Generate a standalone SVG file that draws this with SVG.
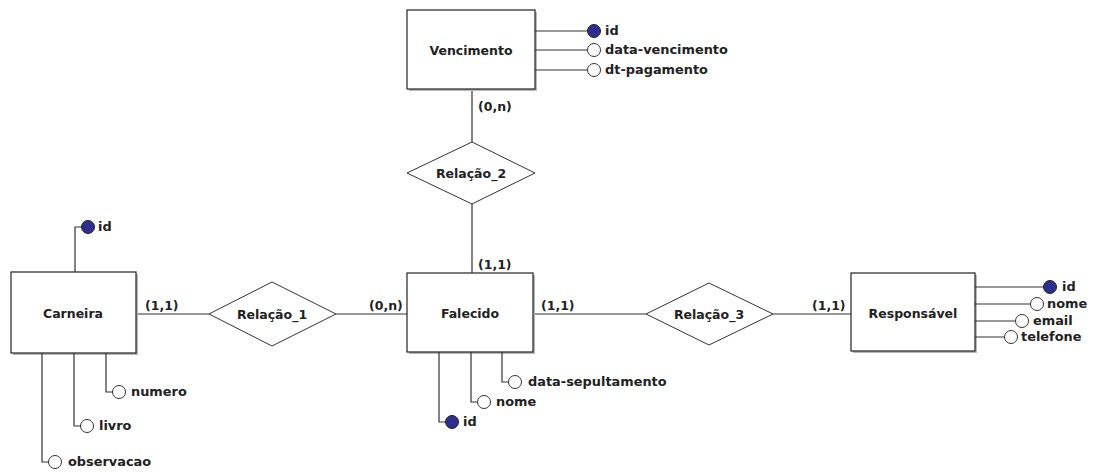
<svg xmlns="http://www.w3.org/2000/svg" width="1101" height="473" viewBox="0 0 1101 473">
<style>
text{font-family:"DejaVu Sans",Verdana,sans-serif;font-weight:bold;font-size:12.5px;fill:#222}
.at{font-size:12.9px}
.lbl{text-anchor:middle;dominant-baseline:central}
.ent{fill:#fff;stroke:#222;stroke-width:1.2}
.sh{fill:#b8b8b8}
.rel{fill:#fff;stroke:#333;stroke-width:1}
.ln{fill:none;stroke:#333;stroke-width:1.2}
.a{fill:#fff;stroke:#333;stroke-width:1}
.k{fill:#2e2e90;stroke:#222;stroke-width:1}
</style>
<rect width="1101" height="473" fill="#fff"/>
<g id="connectors">
<path class="ln" d="M472 89V142M472 204V273"/>
<path class="ln" d="M136 314H209M336 314H407"/>
<path class="ln" d="M533 314H646M773 314H851"/>
<text x="478" y="111">(0,n)</text>
<text x="478" y="269">(1,1)</text>
<text x="145" y="310">(1,1)</text>
<text x="369" y="310">(0,n)</text>
<text x="541" y="310">(1,1)</text>
<text x="812" y="310">(1,1)</text>
</g>
<g id="vencimento">
<rect class="sh" x="409" y="12" width="128" height="79"/>
<rect class="ent" x="407" y="10" width="128" height="79"/>
<text class="lbl" x="471" y="50">Vencimento</text>
<path class="ln" d="M535 31H587M535 50H587M535 70H587"/>
<circle class="k" cx="594" cy="31" r="6.5"/>
<circle class="a" cx="594" cy="50" r="6.5"/>
<circle class="a" cx="594" cy="70" r="6.5"/>
<text class="at" x="605" y="35">id</text>
<text class="at" x="605" y="54">data-vencimento</text>
<text class="at" x="605" y="74">dt-pagamento</text>
</g>
<g id="relacao_2">
<polygon class="rel" points="472,142 535,173 472,204 407,173"/>
<text class="lbl" x="471" y="173">Relação_2</text>
</g>
<g id="carneira">
<rect class="sh" x="13" y="274" width="125" height="81"/>
<rect class="ent" x="11" y="272" width="125" height="81"/>
<text class="lbl" x="73" y="313">Carneira</text>
<path class="ln" d="M75 272V227H82M106 353V392H113M74 353V426H81M42 353V462H49"/>
<circle class="k" cx="88" cy="227" r="6.5"/>
<circle class="a" cx="119" cy="392" r="6.5"/>
<circle class="a" cx="87" cy="426" r="6.5"/>
<circle class="a" cx="55" cy="462" r="6.5"/>
<text class="at" x="98" y="231">id</text>
<text class="at" x="131" y="396">numero</text>
<text class="at" x="99" y="430">livro</text>
<text class="at" x="68" y="466">observacao</text>
</g>
<g id="relacao_1">
<polygon class="rel" points="272,282 336,314 272,346 209,314"/>
<text class="lbl" x="272" y="314">Relação_1</text>
</g>
<g id="falecido">
<rect class="sh" x="409" y="275" width="126" height="79"/>
<rect class="ent" x="407" y="273" width="126" height="79"/>
<text class="lbl" x="470" y="313">Falecido</text>
<path class="ln" d="M439 352V422H446M471 352V402H478M502 352V382H509"/>
<circle class="k" cx="452" cy="422" r="6.5"/>
<circle class="a" cx="484" cy="402" r="6.5"/>
<circle class="a" cx="515" cy="382" r="6.5"/>
<text class="at" x="463" y="426">id</text>
<text class="at" x="496" y="406">nome</text>
<text class="at" x="528" y="386">data-sepultamento</text>
</g>
<g id="relacao_3">
<polygon class="rel" points="709,283 773,314 709,345 646,314"/>
<text class="lbl" x="709" y="314">Relação_3</text>
</g>
<g id="responsavel">
<rect class="sh" x="853" y="275" width="124" height="78"/>
<rect class="ent" x="851" y="273" width="124" height="78"/>
<text class="lbl" x="913" y="313">Responsável</text>
<path class="ln" d="M975 287H1043M975 304H1030M975 321H1015M975 337H1004"/>
<circle class="k" cx="1050" cy="287" r="6.5"/>
<circle class="a" cx="1037" cy="304" r="6.5"/>
<circle class="a" cx="1022" cy="321" r="6.5"/>
<circle class="a" cx="1011" cy="337" r="6.5"/>
<text class="at" x="1062" y="291">id</text>
<text class="at" x="1047" y="308">nome</text>
<text class="at" x="1033" y="325">email</text>
<text class="at" x="1021" y="341">telefone</text>
</g>
</svg>
